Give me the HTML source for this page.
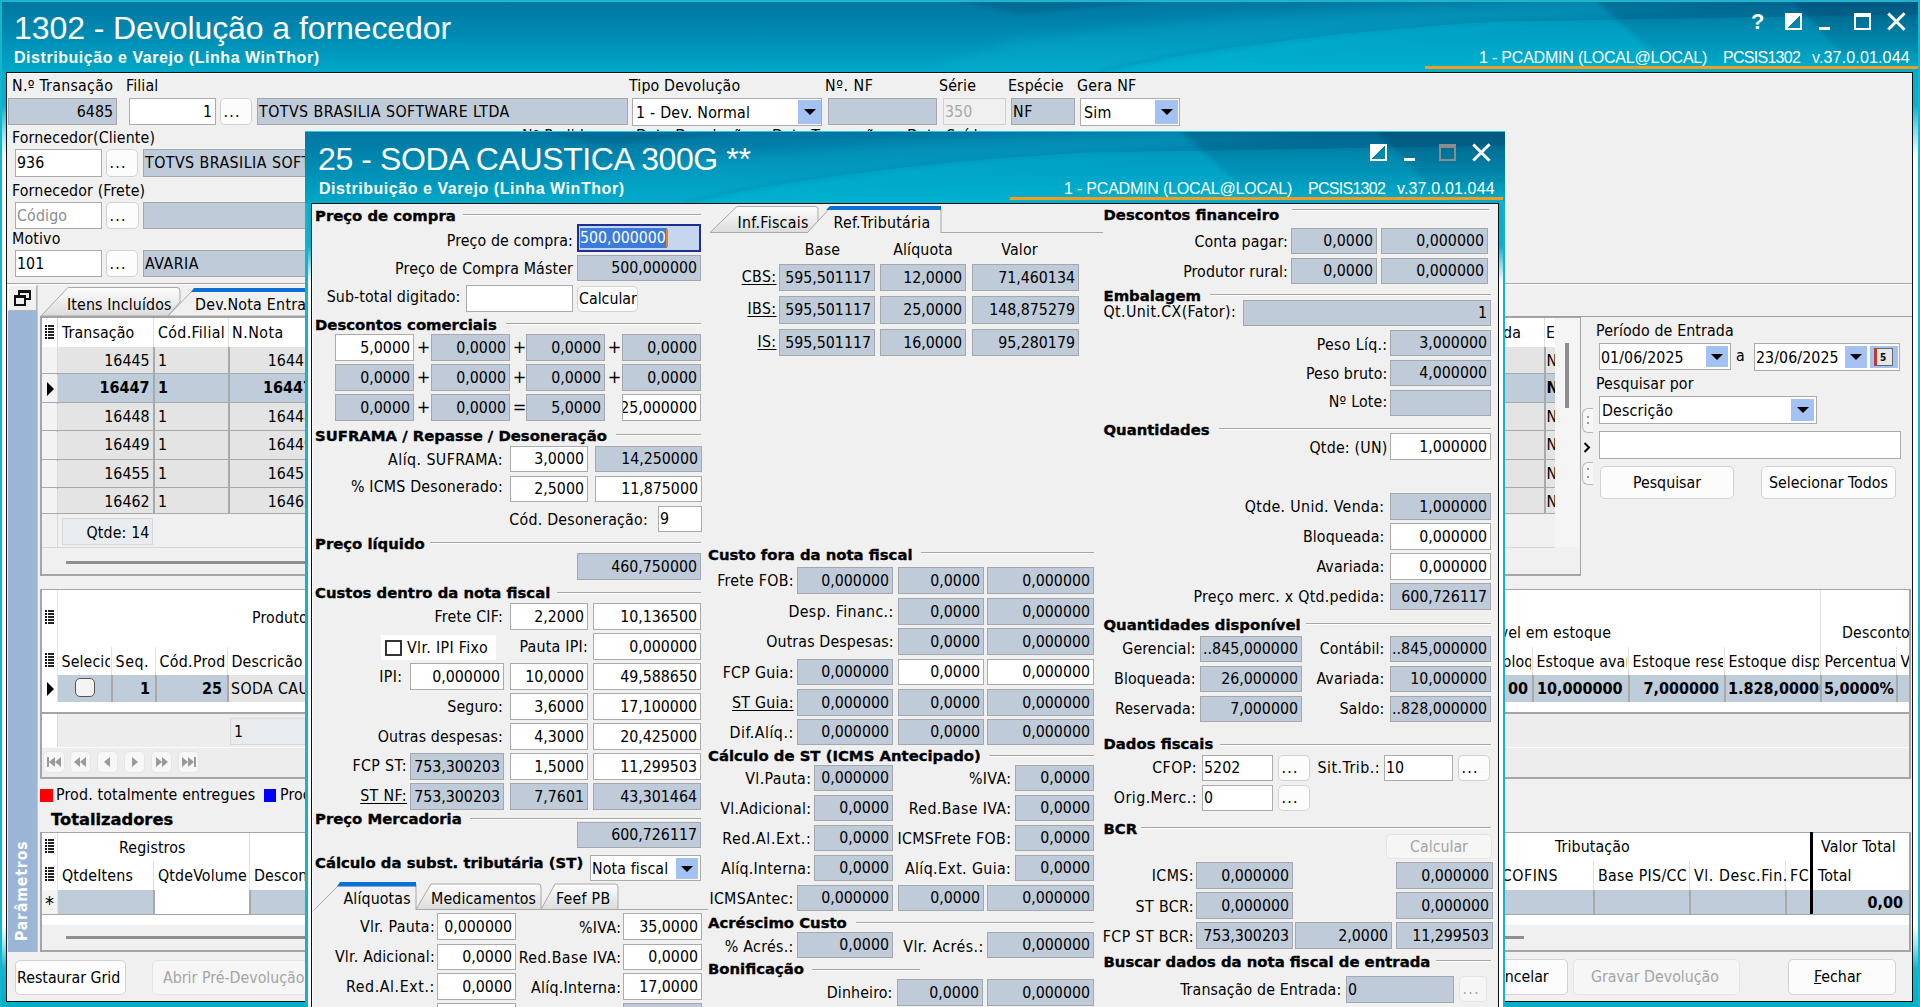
<!DOCTYPE html><html><head><meta charset="utf-8"><title>1302 - Devolução a fornecedor</title><style>
*{margin:0;padding:0}
html,body{width:1920px;height:1007px;overflow:hidden}
body{position:relative;background:#09a6c6;font-family:"DejaVu Sans Condensed","DejaVu Sans",sans-serif;font-size:15.8px;color:#000}
div{position:absolute;box-sizing:border-box;white-space:nowrap}
.fg{background:#bfcbd8;border:1px solid #a3a8ae;overflow:hidden}
.fw{background:#fff;border:1px solid #ababab;overflow:hidden}
.fd{background:#f0f0f0;border:1px solid #cfcfcf;color:#a8a8a8;overflow:hidden}
.fp{background:#e9ecef;border:1px solid #d6d9dc;overflow:hidden}
.bt{background:#fcfcfc;border:1px solid #d2d2d2;border-radius:5px;text-align:center;overflow:hidden}
.bt.dis{color:#a5a5a5;background:#f6f6f6;border-color:#e4e4e4}
.ddb{background:#a3c1f3}
.tri{left:50%;top:50%;margin-left:-6px;margin-top:-3px;width:0;height:0;border-left:6px solid transparent;border-right:6px solid transparent;border-top:6px solid #000}
.gl{height:2px;border-top:1px solid #a6a6a6;border-bottom:1px solid #fff}
.wt{color:#fff}
.ttl{font-family:"Liberation Sans",Arial,sans-serif;color:#fff}
u{text-decoration:underline}
</style></head><body><div style="left:0;top:0;width:1920px;height:1007px;background:linear-gradient(180deg,#09a8c8 0px,#0ab0cf 105px,#86dcec 130px,#f4fbfd 155px,#fff 165px,#fff 925px,#9fe3ef 945px,#12b6d0 968px,#02aec9 1007px)"></div><svg style="position:absolute;left:0px;top:0px" width="1920" height="72"><defs><linearGradient id="tb0g" x1="0" y1="0" x2="0" y2="1"><stop offset="0" stop-color="#0076a1"/><stop offset="0.45" stop-color="#0089b1"/><stop offset="1" stop-color="#00a8c8"/></linearGradient><filter id="tb0b"><feGaussianBlur stdDeviation="6"/></filter><filter id="tb0s"><feGaussianBlur stdDeviation="2"/></filter></defs><rect width="1920" height="72" fill="url(#tb0g)"/><path d="M1020 39.6 C1220 14.4,1420 3.6,1590 0 L1740 0 C1570 21.599999999999998,1320 43.199999999999996,1100 72 L920 72 Z" fill="#10b6d6" opacity="0.3" filter="url(#tb0b)"/><path d="M1098 73 C1200 47.52,1350 30.24,1500 21.599999999999998 L1920 14.4 L1920 73 Z" fill="#00bedb" opacity="0.42"/><path d="M1098 73 C1200 47.52,1350 30.24,1500 21.599999999999998 L1920 14.4" fill="none" stroke="#007fa6" stroke-width="5" opacity="0.25" filter="url(#tb0s)"/><path d="M960 1 L1160 1 L1020 14.4 Z" fill="#005b84" opacity="0.45" filter="url(#tb0s)"/><linearGradient id="tb0d" x1="0" y1="0" x2="0" y2="1"><stop offset="0" stop-color="#003f66" stop-opacity="0.55"/><stop offset="0.6" stop-color="#003f66" stop-opacity="0.25"/><stop offset="1" stop-color="#003f66" stop-opacity="0"/></linearGradient><path d="M1590 -5 L1930 -5 L1930 72 L1675 72 Z" fill="url(#tb0d)" opacity="0.6" filter="url(#tb0s)"/><path d="M1787 -5 L1930 -5 L1930 72 L1860 72 Z" fill="url(#tb0d)" opacity="0.7" filter="url(#tb0s)"/></svg><div class="ttl" style="left:14px;top:7.9px;line-height:40px;font-size:32px;letter-spacing:-0.08px">1302 - Devolução a fornecedor</div><div class="ttl" style="left:14px;top:48.0px;line-height:20px;font-size:16px;font-weight:bold;letter-spacing:0.55px">Distribuição e Varejo (Linha WinThor)</div><div class="ttl" style="left:1479px;top:47.5px;line-height:20px;font-size:16px;letter-spacing:-0.2px">1 - PCADMIN (LOCAL@LOCAL)</div><div class="ttl" style="left:1723px;top:47.5px;line-height:20px;font-size:16px;letter-spacing:-0.72px">PCSIS1302</div><div class="ttl" style="left:1812px;top:47.5px;line-height:20px;font-size:16px;letter-spacing:0.15px">v.37.0.01.044</div><div style="left:1425px;top:65.5px;width:493px;height:3px;background:#f39c1e"></div><div class="ttl" style="left:1751px;top:8px;font-size:22px;font-weight:bold;line-height:28px">?</div><div style="left:1785px;top:13px;width:17px;height:17px;border:2px solid #fff;background:linear-gradient(135deg,#fff 50%,transparent 50%)"></div><div style="left:1819px;top:27px;width:11px;height:3px;background:#fff"></div><div style="left:1854px;top:13px;width:17px;height:17px;border:2px solid #fff;border-top-width:4px"></div><div style="left:1885.2px;top:20.0px;width:22.6px;height:3px;background:#fff;transform:rotate(45deg)"></div><div style="left:1885.2px;top:20.0px;width:22.6px;height:3px;background:#fff;transform:rotate(-45deg)"></div><div style="left:0;top:0;width:1920px;height:2px;background:#1db5cc"></div><div style="left:0;top:0;width:2px;height:1007px;background:#14b6cc"></div><div style="left:1918px;top:0;width:2px;height:1007px;background:#14b6cc"></div><div style="left:6px;top:72px;width:1907px;height:930px;background:#f0f0f0;border:1px solid #111;border-bottom-width:1px"></div><div style="left:7px;top:73px;width:1905px;height:1px;background:#fff"></div><div style="top:76.03px;line-height:20px;font-size:15.8px;letter-spacing:0.272px;left:12px;">N.º Transação</div><div style="top:76.03px;line-height:20px;font-size:15.8px;letter-spacing:0.149px;left:126px;">Filial</div><div style="top:76.03px;line-height:20px;font-size:15.8px;letter-spacing:0.139px;left:629px;">Tipo Devolução</div><div style="top:76.03px;line-height:20px;font-size:15.8px;letter-spacing:0.569px;left:825px;">Nº. NF</div><div style="top:76.03px;line-height:20px;font-size:15.8px;letter-spacing:0.164px;left:939px;">Série</div><div style="top:76.03px;line-height:20px;font-size:15.8px;letter-spacing:0.139px;left:1008px;">Espécie</div><div style="top:76.03px;line-height:20px;font-size:15.8px;letter-spacing:0.261px;left:1077px;">Gera NF</div><div class="fg" style="left:8px;top:98px;width:109px;height:27px;line-height:25px;"><div style="right:3px;top:0">6485</div></div><div class="fw" style="left:129px;top:98px;width:87px;height:27px;line-height:25px;"><div style="right:3px;top:0">1</div></div><div class="bt" style="left:220px;top:98px;width:32px;height:27px;line-height:25px;text-align:left;padding-left:2.5px;letter-spacing:1.3px;">...</div><div class="fg" style="left:257px;top:98px;width:371px;height:27px;line-height:25px;padding-left:1px;letter-spacing:0.458px;">TOTVS BRASILIA SOFTWARE LTDA</div><div class="fw" style="left:632px;top:98px;width:190px;height:28px;line-height:26px;padding-top:1.3px;padding-left:3px;letter-spacing:0.246px;">1 - Dev. Normal</div><div class="ddb" style="left:798px;top:100px;width:23px;height:24px;"><div class="tri"></div></div><div class="fg" style="left:828px;top:98px;width:109px;height:27px;line-height:25px;"></div><div class="fd" style="left:943px;top:98px;width:63px;height:27px;line-height:25px;padding-left:1px;letter-spacing:0.079px;">350</div><div class="fg" style="left:1011px;top:98px;width:64px;height:27px;line-height:25px;padding-left:1px;letter-spacing:0.503px;">NF</div><div class="fw" style="left:1080px;top:98px;width:100px;height:28px;line-height:26px;padding-top:1.3px;padding-left:3px;letter-spacing:0.220px;">Sim</div><div class="ddb" style="left:1155px;top:100px;width:23px;height:24px;"><div class="tri"></div></div><div style="top:128.03px;line-height:20px;font-size:15.8px;letter-spacing:0.123px;left:12px;">Fornecedor(Cliente)</div><div style="top:126.03px;line-height:20px;font-size:15.8px;letter-spacing:0.173px;left:522px;">Nº Pedido</div><div style="top:126.03px;line-height:20px;font-size:15.8px;letter-spacing:0.139px;left:636px;">Data Devolução</div><div style="top:126.03px;line-height:20px;font-size:15.8px;letter-spacing:0.139px;left:772px;">Data Transação</div><div style="top:126.03px;line-height:20px;font-size:15.8px;letter-spacing:0.164px;left:907px;">Data Saída</div><div class="fw" style="left:15px;top:149px;width:87px;height:28px;line-height:26px;padding-left:1px;letter-spacing:0.079px;">936</div><div class="bt" style="left:106px;top:149px;width:32px;height:28px;line-height:26px;text-align:left;padding-left:2.5px;letter-spacing:1.3px;">...</div><div class="fg" style="left:143px;top:149px;width:457px;height:28px;line-height:26px;padding-left:1px;letter-spacing:0.458px;">TOTVS BRASILIA SOFTWARE LTDA</div><div style="top:180.53px;line-height:20px;font-size:15.8px;letter-spacing:0.126px;left:12px;">Fornecedor (Frete)</div><div class="fw" style="left:15px;top:202px;width:87px;height:27px;line-height:25px;padding-left:1px;letter-spacing:0.149px;color:#8c8c8c;">Código</div><div class="bt" style="left:106px;top:202px;width:33px;height:27px;line-height:25px;text-align:left;padding-left:2.5px;letter-spacing:1.3px;">...</div><div class="fg" style="left:143px;top:202px;width:457px;height:27px;line-height:25px;padding-left:4px;letter-spacing:0.000px;"></div><div style="top:229.03px;line-height:20px;font-size:15.8px;letter-spacing:0.149px;left:12px;">Motivo</div><div class="fw" style="left:15px;top:250px;width:87px;height:27px;line-height:25px;padding-left:1px;letter-spacing:0.079px;">101</div><div class="bt" style="left:106px;top:250px;width:32px;height:27px;line-height:25px;text-align:left;padding-left:2.5px;letter-spacing:1.3px;">...</div><div class="fg" style="left:143px;top:250px;width:457px;height:27px;line-height:25px;padding-left:1px;letter-spacing:0.503px;">AVARIA</div><div style="left:7px;top:283px;width:1905px;height:1px;background:#a8a8a8"></div><div style="left:7px;top:284px;width:1905px;height:1px;background:#fff"></div><div style="left:8px;top:285px;width:29px;height:26px;background:#f0f0f0;border:1px solid #b4b4b4;border-top-color:#fff;border-left-color:#fff"></div><div style="left:18px;top:290px;width:12.5px;height:10px;border:2px solid #111;border-top-width:3px"></div><div style="left:13.5px;top:295px;width:12.5px;height:11px;border:2px solid #111;border-top-width:3px;background:#f0f0f0"></div><div style="left:8px;top:311px;width:29px;height:641px;background:#9bb5d6"></div><div style="left:37px;top:285px;width:1px;height:667px;background:#c8c8c8"></div><div style="left:-28px;top:881px;width:100px;height:20px;line-height:20px;text-align:center;color:#fff;font-weight:bold;font-size:15.5px;letter-spacing:0.95px;transform:rotate(-90deg)">Parâmetros</div><svg style="position:absolute;left:38px;top:284px" width="170" height="34"><defs><linearGradient id="tg" x1="0" y1="0" x2="0" y2="1"><stop offset="0" stop-color="#fdfdfd"/><stop offset="1" stop-color="#dcdcdc"/></linearGradient></defs><path d="M3 32 L30 3.5 L139 3.5 Q142 3.5 142 7 L142 18 L130 32 Z" fill="url(#tg)" stroke="#a8a8a8" stroke-width="1"/></svg><div style="top:295.03px;line-height:20px;font-size:15.8px;letter-spacing:0.135px;left:67px;">Itens Incluídos</div><svg style="position:absolute;left:160px;top:284px" width="150" height="34"><path d="M8 32 L34 5 L150 5 L150 32 Z" fill="#f0f0f0" stroke="#a8a8a8" stroke-width="1"/><path d="M34 4 L150 4 L150 8 L31 8 Z" fill="#0b6fd6"/></svg><div style="top:295.03px;line-height:20px;font-size:15.8px;letter-spacing:0.263px;left:195px;">Dev.Nota Entrada</div><div style="left:40px;top:316px;width:1872px;height:1px;background:#a0a0a0"></div><div style="left:40px;top:317px;width:1541px;height:259px;background:#f0f0f0;border:2px solid #a5a5a5;border-top:1px solid #a5a5a5;border-right:1px solid #a5a5a5"></div><div style="left:1555px;top:318px;width:25px;height:229px;background:#f5f5f5"></div><div style="left:1565px;top:343px;width:4px;height:65px;background:#8f8f8f"></div><div style="left:42px;top:318px;width:1513px;height:29px;background:#fff"></div><div style="left:45px;top:325.0px;width:1.6px;height:1.6px;background:#111"></div><div style="left:48px;top:325.0px;width:6px;height:1.6px;background:#222"></div><div style="left:45px;top:328.1px;width:1.6px;height:1.6px;background:#111"></div><div style="left:48px;top:328.1px;width:6px;height:1.6px;background:#222"></div><div style="left:45px;top:331.2px;width:1.6px;height:1.6px;background:#111"></div><div style="left:48px;top:331.2px;width:6px;height:1.6px;background:#222"></div><div style="left:45px;top:334.3px;width:1.6px;height:1.6px;background:#111"></div><div style="left:48px;top:334.3px;width:6px;height:1.6px;background:#222"></div><div style="left:45px;top:337.4px;width:1.6px;height:1.6px;background:#111"></div><div style="left:48px;top:337.4px;width:6px;height:1.6px;background:#222"></div><div style="left:57px;top:318px;width:1px;height:195px;background:#d9d9d9"></div><div style="left:153px;top:318px;width:1px;height:29px;background:#e0e0e0"></div><div style="left:228px;top:318px;width:1px;height:29px;background:#e0e0e0"></div><div style="top:322.83px;line-height:20px;font-size:15.8px;letter-spacing:0.126px;left:62px;">Transação</div><div style="top:322.83px;line-height:20px;font-size:15.8px;letter-spacing:0.33px;left:158px;">Cód.Filial</div><div style="top:322.83px;line-height:20px;font-size:15.8px;letter-spacing:0.498px;left:232px;">N.Nota</div><div style="top:322.83px;line-height:20px;font-size:15.8px;letter-spacing:0.139px;left:921px;width:600px;text-align:right;">Entrada</div><div style="left:1544px;top:318px;width:1px;height:29px;background:#e0e0e0"></div><div style="left:1545px;top:318px;width:10px;height:29px;overflow:hidden"><div style="left:1px;top:4.83px;line-height:20px">E</div></div><div style="left:58px;top:347px;width:1497px;height:27px;background:#e4e4e4"></div><div style="left:42px;top:347px;width:15px;height:27px;background:#f3f3f3"></div><div style="left:42px;top:373px;width:1513px;height:2px;background:#a9a9a9"></div><div style="top:351.03px;line-height:20px;font-size:15.8px;left:-450.5px;width:600px;text-align:right;">16445</div><div style="top:351.03px;line-height:20px;font-size:15.8px;left:158px;">1</div><div style="top:351.03px;line-height:20px;font-size:15.8px;left:-287px;width:600px;text-align:right;">16445</div><div style="left:1545px;top:347px;width:10px;height:26px;overflow:hidden"><div style="left:1.5px;top:4.03px;line-height:20px;">N</div></div><div style="left:153px;top:347px;width:2px;height:27px;background:#a9a9a9"></div><div style="left:228px;top:347px;width:2px;height:27px;background:#a9a9a9"></div><div style="left:1544px;top:347px;width:2px;height:27px;background:#a9a9a9"></div><div style="left:58px;top:374px;width:1497px;height:29px;background:#bfccd9"></div><div style="left:42px;top:374px;width:15px;height:29px;background:#f3f3f3"></div><div style="left:42px;top:402px;width:1513px;height:2px;background:#a9a9a9"></div><div style="top:377.96px;line-height:20px;font-size:16px;font-weight:bold;left:-450.5px;width:600px;text-align:right;">16447</div><div style="top:377.96px;line-height:20px;font-size:16px;font-weight:bold;left:158px;">1</div><div style="top:377.96px;line-height:20px;font-size:16px;font-weight:bold;left:-287px;width:600px;text-align:right;">16447</div><div style="left:1545px;top:374px;width:10px;height:28px;overflow:hidden"><div style="left:1.5px;top:4.03px;line-height:20px;font-weight:bold;">N</div></div><div style="left:47px;top:382px;width:0;height:0;border-top:7px solid transparent;border-bottom:7px solid transparent;border-left:7px solid #000"></div><div style="left:153px;top:374px;width:2px;height:29px;background:#a9a9a9"></div><div style="left:228px;top:374px;width:2px;height:29px;background:#a9a9a9"></div><div style="left:1544px;top:374px;width:2px;height:29px;background:#a9a9a9"></div><div style="left:58px;top:403px;width:1497px;height:28px;background:#e4e4e4"></div><div style="left:42px;top:403px;width:15px;height:28px;background:#f3f3f3"></div><div style="left:42px;top:430px;width:1513px;height:2px;background:#a9a9a9"></div><div style="top:407.03px;line-height:20px;font-size:15.8px;left:-450.5px;width:600px;text-align:right;">16448</div><div style="top:407.03px;line-height:20px;font-size:15.8px;left:158px;">1</div><div style="top:407.03px;line-height:20px;font-size:15.8px;left:-287px;width:600px;text-align:right;">16448</div><div style="left:1545px;top:403px;width:10px;height:27px;overflow:hidden"><div style="left:1.5px;top:4.03px;line-height:20px;">N</div></div><div style="left:153px;top:403px;width:2px;height:28px;background:#a9a9a9"></div><div style="left:228px;top:403px;width:2px;height:28px;background:#a9a9a9"></div><div style="left:1544px;top:403px;width:2px;height:28px;background:#a9a9a9"></div><div style="left:58px;top:431px;width:1497px;height:29px;background:#e4e4e4"></div><div style="left:42px;top:431px;width:15px;height:29px;background:#f3f3f3"></div><div style="left:42px;top:459px;width:1513px;height:2px;background:#a9a9a9"></div><div style="top:435.03px;line-height:20px;font-size:15.8px;left:-450.5px;width:600px;text-align:right;">16449</div><div style="top:435.03px;line-height:20px;font-size:15.8px;left:158px;">1</div><div style="top:435.03px;line-height:20px;font-size:15.8px;left:-287px;width:600px;text-align:right;">16449</div><div style="left:1545px;top:431px;width:10px;height:28px;overflow:hidden"><div style="left:1.5px;top:4.03px;line-height:20px;">N</div></div><div style="left:153px;top:431px;width:2px;height:29px;background:#a9a9a9"></div><div style="left:228px;top:431px;width:2px;height:29px;background:#a9a9a9"></div><div style="left:1544px;top:431px;width:2px;height:29px;background:#a9a9a9"></div><div style="left:58px;top:460px;width:1497px;height:28px;background:#e4e4e4"></div><div style="left:42px;top:460px;width:15px;height:28px;background:#f3f3f3"></div><div style="left:42px;top:487px;width:1513px;height:2px;background:#a9a9a9"></div><div style="top:464.03px;line-height:20px;font-size:15.8px;left:-450.5px;width:600px;text-align:right;">16455</div><div style="top:464.03px;line-height:20px;font-size:15.8px;left:158px;">1</div><div style="top:464.03px;line-height:20px;font-size:15.8px;left:-287px;width:600px;text-align:right;">16455</div><div style="left:1545px;top:460px;width:10px;height:27px;overflow:hidden"><div style="left:1.5px;top:4.03px;line-height:20px;">N</div></div><div style="left:153px;top:460px;width:2px;height:28px;background:#a9a9a9"></div><div style="left:228px;top:460px;width:2px;height:28px;background:#a9a9a9"></div><div style="left:1544px;top:460px;width:2px;height:28px;background:#a9a9a9"></div><div style="left:58px;top:488px;width:1497px;height:26px;background:#e4e4e4"></div><div style="left:42px;top:488px;width:15px;height:26px;background:#f3f3f3"></div><div style="left:42px;top:513px;width:1513px;height:2px;background:#a9a9a9"></div><div style="top:492.03px;line-height:20px;font-size:15.8px;left:-450.5px;width:600px;text-align:right;">16462</div><div style="top:492.03px;line-height:20px;font-size:15.8px;left:158px;">1</div><div style="top:492.03px;line-height:20px;font-size:15.8px;left:-287px;width:600px;text-align:right;">16462</div><div style="left:1545px;top:488px;width:10px;height:25px;overflow:hidden"><div style="left:1.5px;top:4.03px;line-height:20px;">N</div></div><div style="left:153px;top:488px;width:2px;height:26px;background:#a9a9a9"></div><div style="left:228px;top:488px;width:2px;height:26px;background:#a9a9a9"></div><div style="left:1544px;top:488px;width:2px;height:26px;background:#a9a9a9"></div><div style="left:42px;top:514px;width:1513px;height:34px;background:#f0f0f0"></div><div style="left:57px;top:514px;width:1px;height:34px;background:#d9d9d9"></div><div class="fp" style="left:62px;top:518px;width:91px;height:27px;"></div><div style="top:522.83px;line-height:20px;font-size:15.8px;letter-spacing:0.132px;left:-450.5px;width:600px;text-align:right;">Qtde: 14</div><div style="left:42px;top:547px;width:1513px;height:1px;background:#d8d8d8"></div><div style="left:66px;top:561px;width:1354px;height:3px;background:#8f8f8f"></div><div style="top:321.23px;line-height:20px;font-size:15.8px;letter-spacing:0.126px;left:1596px;">Período de Entrada</div><div class="fw" style="left:1599px;top:343px;width:132px;height:27px;line-height:25px;padding-top:1.3px;padding-left:1px;letter-spacing:0.079px;">01/06/2025</div><div class="ddb" style="left:1706px;top:346px;width:22px;height:21px;"><div class="tri"></div></div><div style="top:345.53px;line-height:20px;font-size:15.8px;letter-spacing:0.079px;left:1736px;">a</div><div class="fw" style="left:1754px;top:343px;width:146px;height:28px;line-height:26px;padding-top:1.3px;padding-left:1px;letter-spacing:0.079px;">23/06/2025</div><div class="ddb" style="left:1845px;top:346px;width:22px;height:22px;"><div class="tri"></div></div><div style="left:1870px;top:346px;width:28px;height:22px;background:#a3c1f3"></div><div style="left:1874px;top:348px;width:19px;height:18px;background:#e7e7e7;border:1px solid #666;border-left:3px solid #c0392b"></div><div style="left:1880px;top:352px;font-size:10px;line-height:12px;font-weight:bold">5</div><div style="top:373.73px;line-height:20px;font-size:15.8px;letter-spacing:0.111px;left:1596px;">Pesquisar por</div><div class="fw" style="left:1599px;top:396px;width:218px;height:28px;line-height:26px;padding-top:1.3px;padding-left:2px;letter-spacing:0.126px;">Descrição</div><div class="ddb" style="left:1791px;top:399px;width:23px;height:22px;"><div class="tri"></div></div><div class="fw" style="left:1599px;top:431px;width:302px;height:28px;line-height:26px;"></div><div class="bt" style="left:1600px;top:466px;width:134px;height:33px;line-height:31px;">Pesquisar</div><div class="bt" style="left:1761px;top:466px;width:135px;height:33px;line-height:31px;">Selecionar Todos</div><div style="left:1582px;top:408px;width:11px;height:25px;border:1px solid #b8b8b8;border-right:none;border-radius:6px 0 0 6px;background:#f6f6f6"></div><div style="left:1587px;top:416px;width:2px;height:2px;background:#999"></div><div style="left:1587px;top:422px;width:2px;height:2px;background:#999"></div><div style="left:1582px;top:462px;width:11px;height:23px;border:1px solid #b8b8b8;border-right:none;border-radius:6px 0 0 6px;background:#f6f6f6"></div><div style="left:1587px;top:468px;width:2px;height:2px;background:#999"></div><div style="left:1587px;top:476px;width:2px;height:2px;background:#999"></div><svg style="position:absolute;left:1582px;top:441px" width="10" height="13"><path d="M2.5 2 L7 6.5 L2.5 11" fill="none" stroke="#000" stroke-width="2"/></svg><div style="left:40px;top:589px;width:1871px;height:190px;background:#f0f0f0;border:2px solid #a5a5a5;border-top:1px solid #a5a5a5"></div><div style="left:42px;top:590px;width:1867px;height:85px;background:#fff"></div><div style="left:45px;top:610.0px;width:1.6px;height:1.6px;background:#111"></div><div style="left:48px;top:610.0px;width:6px;height:1.6px;background:#222"></div><div style="left:45px;top:613.1px;width:1.6px;height:1.6px;background:#111"></div><div style="left:48px;top:613.1px;width:6px;height:1.6px;background:#222"></div><div style="left:45px;top:616.2px;width:1.6px;height:1.6px;background:#111"></div><div style="left:48px;top:616.2px;width:6px;height:1.6px;background:#222"></div><div style="left:45px;top:619.3px;width:1.6px;height:1.6px;background:#111"></div><div style="left:48px;top:619.3px;width:6px;height:1.6px;background:#222"></div><div style="left:45px;top:622.4px;width:1.6px;height:1.6px;background:#111"></div><div style="left:48px;top:622.4px;width:6px;height:1.6px;background:#222"></div><div style="left:45px;top:653.0px;width:1.6px;height:1.6px;background:#111"></div><div style="left:48px;top:653.0px;width:6px;height:1.6px;background:#222"></div><div style="left:45px;top:656.1px;width:1.6px;height:1.6px;background:#111"></div><div style="left:48px;top:656.1px;width:6px;height:1.6px;background:#222"></div><div style="left:45px;top:659.2px;width:1.6px;height:1.6px;background:#111"></div><div style="left:48px;top:659.2px;width:6px;height:1.6px;background:#222"></div><div style="left:45px;top:662.3px;width:1.6px;height:1.6px;background:#111"></div><div style="left:48px;top:662.3px;width:6px;height:1.6px;background:#222"></div><div style="left:45px;top:665.4px;width:1.6px;height:1.6px;background:#111"></div><div style="left:48px;top:665.4px;width:6px;height:1.6px;background:#222"></div><div style="left:57px;top:590px;width:1px;height:112px;background:#e4e4e4"></div><div style="top:607.53px;line-height:20px;font-size:15.8px;letter-spacing:0.139px;left:252px;">Produto</div><div style="top:623.13px;line-height:20px;font-size:15.8px;letter-spacing:0.099px;left:1011px;width:600px;text-align:right;">Disponível em estoque</div><div style="left:1820px;top:590px;width:1px;height:85px;background:#e0e0e0"></div><div style="top:623.13px;line-height:20px;font-size:15.8px;letter-spacing:0.132px;left:1842px;">Desconto</div><div style="left:111px;top:647px;width:1px;height:28px;background:#e0e0e0"></div><div style="left:155px;top:647px;width:1px;height:28px;background:#e0e0e0"></div><div style="left:227px;top:647px;width:1px;height:28px;background:#e0e0e0"></div><div style="left:1532px;top:647px;width:1px;height:28px;background:#e0e0e0"></div><div style="left:1628px;top:647px;width:1px;height:28px;background:#e0e0e0"></div><div style="left:1724px;top:647px;width:1px;height:28px;background:#e0e0e0"></div><div style="left:1896px;top:647px;width:1px;height:28px;background:#e0e0e0"></div><div style="left:58px;top:647px;width:52px;height:28px;overflow:hidden"><div style="left:3.5px;top:4.53px;line-height:20px;letter-spacing:0.117px;">Selecionado</div></div><div style="left:112px;top:647px;width:42px;height:28px;overflow:hidden"><div style="left:3.5px;top:4.53px;line-height:20px;letter-spacing:0.602px;">Seq.</div></div><div style="left:156px;top:647px;width:70px;height:28px;overflow:hidden"><div style="left:3.5px;top:4.53px;line-height:20px;letter-spacing:0.308px;">Cód.Produto</div></div><div style="left:228px;top:647px;width:102px;height:28px;overflow:hidden"><div style="left:3.5px;top:4.53px;line-height:20px;letter-spacing:0.126px;">Descricão</div></div><div style="left:1436px;top:647px;width:95px;height:28px;overflow:hidden"><div style="left:3.5px;top:4.53px;line-height:20px;letter-spacing:0.104px;">Estoque bloqueado</div></div><div style="left:1533px;top:647px;width:94px;height:28px;overflow:hidden"><div style="left:3.5px;top:4.53px;line-height:20px;letter-spacing:0.105px;">Estoque avariado</div></div><div style="left:1629px;top:647px;width:94px;height:28px;overflow:hidden"><div style="left:3.5px;top:4.53px;line-height:20px;letter-spacing:0.104px;">Estoque reservado</div></div><div style="left:1725px;top:647px;width:94px;height:28px;overflow:hidden"><div style="left:3.5px;top:4.53px;line-height:20px;letter-spacing:0.102px;">Estoque disponível</div></div><div style="left:1821px;top:647px;width:74px;height:28px;overflow:hidden"><div style="left:3.5px;top:4.53px;line-height:20px;letter-spacing:0.121px;">Percentual</div></div><div style="left:1897px;top:647px;width:12px;height:28px;overflow:hidden"><div style="left:3.5px;top:4.53px;line-height:20px;letter-spacing:0.288px;">Vl. Desconto</div></div><div style="left:58px;top:675px;width:169px;height:27px;background:#bfccd9"></div><div style="left:227px;top:675px;width:103px;height:27px;background:#e4e4e4"></div><div style="left:1500px;top:675px;width:409px;height:27px;background:#bfccd9"></div><div style="left:42px;top:675px;width:15px;height:27px;background:#fff"></div><div style="left:47px;top:682px;width:0;height:0;border-top:7px solid transparent;border-bottom:7px solid transparent;border-left:7px solid #000"></div><div style="left:75px;top:678px;width:20px;height:19px;border:1.5px solid #555;border-radius:5px;background:#f4f4f4"></div><div style="left:111px;top:675px;width:2px;height:27px;background:#a9a9a9"></div><div style="left:155px;top:675px;width:2px;height:27px;background:#a9a9a9"></div><div style="left:227px;top:675px;width:2px;height:27px;background:#a9a9a9"></div><div style="left:1532px;top:675px;width:2px;height:27px;background:#a9a9a9"></div><div style="left:1628px;top:675px;width:2px;height:27px;background:#a9a9a9"></div><div style="left:1724px;top:675px;width:2px;height:27px;background:#a9a9a9"></div><div style="left:1820px;top:675px;width:2px;height:27px;background:#a9a9a9"></div><div style="left:1896px;top:675px;width:2px;height:27px;background:#a9a9a9"></div><div style="top:678.96px;line-height:20px;font-size:16px;font-weight:bold;left:-450px;width:600px;text-align:right;">1</div><div style="top:678.96px;line-height:20px;font-size:16px;font-weight:bold;left:-378px;width:600px;text-align:right;">25</div><div style="top:679.03px;line-height:20px;font-size:15.8px;letter-spacing:0.385px;left:231px;">SODA CAUSTICA 300G</div><div style="top:678.96px;line-height:20px;font-size:16px;font-weight:bold;left:928px;width:600px;text-align:right;">00</div><div style="top:678.96px;line-height:20px;font-size:16px;font-weight:bold;left:1537px;">10,000000</div><div style="top:678.96px;line-height:20px;font-size:16px;font-weight:bold;left:1119px;width:600px;text-align:right;">7,000000</div><div style="left:1726px;top:675px;width:94px;height:27px;overflow:hidden"><div style="left:2px;top:3.96px;line-height:20px;font-size:16px;font-weight:bold">1.828,000000</div></div><div style="left:1822px;top:675px;width:74px;height:27px;overflow:hidden"><div style="left:2px;top:3.96px;line-height:20px;font-size:16px;font-weight:bold">5,0000%</div></div><div style="left:42px;top:702px;width:1867px;height:10px;background:#fff"></div><div style="left:42px;top:712px;width:1867px;height:2px;background:#a5a5a5"></div><div style="left:42px;top:714px;width:1867px;height:33px;background:#ededed"></div><div style="left:42px;top:714px;width:15px;height:33px;background:#fff"></div><div style="left:57px;top:714px;width:1px;height:33px;background:#d9d9d9"></div><div class="fp" style="left:230px;top:718px;width:100px;height:27px;"></div><div style="top:722.03px;line-height:20px;font-size:15.8px;letter-spacing:0.079px;left:234px;">1</div><div style="left:42px;top:747px;width:1867px;height:1px;background:#fafafa"></div><div style="left:42px;top:748px;width:1867px;height:29px;background:#ededed"></div><div class="bt" style="left:43px;top:751px;width:22px;height:22px;border-color:#e6e6e6;background:#f7f7f7"></div><div class="bt" style="left:70px;top:751px;width:21px;height:22px;border-color:#e6e6e6;background:#f7f7f7"></div><div class="bt" style="left:97px;top:751px;width:21px;height:22px;border-color:#e6e6e6;background:#f7f7f7"></div><div class="bt" style="left:124px;top:751px;width:21px;height:22px;border-color:#e6e6e6;background:#f7f7f7"></div><div class="bt" style="left:151px;top:751px;width:21px;height:22px;border-color:#e6e6e6;background:#f7f7f7"></div><div class="bt" style="left:178px;top:751px;width:21px;height:22px;border-color:#e6e6e6;background:#f7f7f7"></div><div style="left:47px;top:757px;width:2px;height:10px;background:#9a9a9a"></div><div style="left:49px;top:757px;width:0;height:0;border-top:5px solid transparent;border-bottom:5px solid transparent;border-right:6px solid #9a9a9a"></div><div style="left:55px;top:757px;width:0;height:0;border-top:5px solid transparent;border-bottom:5px solid transparent;border-right:6px solid #9a9a9a"></div><div style="left:74px;top:757px;width:0;height:0;border-top:5px solid transparent;border-bottom:5px solid transparent;border-right:6px solid #9a9a9a"></div><div style="left:80px;top:757px;width:0;height:0;border-top:5px solid transparent;border-bottom:5px solid transparent;border-right:6px solid #9a9a9a"></div><div style="left:104px;top:757px;width:0;height:0;border-top:5px solid transparent;border-bottom:5px solid transparent;border-right:6px solid #9a9a9a"></div><div style="left:132px;top:757px;width:0;height:0;border-top:5px solid transparent;border-bottom:5px solid transparent;border-left:6px solid #9a9a9a"></div><div style="left:156px;top:757px;width:0;height:0;border-top:5px solid transparent;border-bottom:5px solid transparent;border-left:6px solid #9a9a9a"></div><div style="left:162px;top:757px;width:0;height:0;border-top:5px solid transparent;border-bottom:5px solid transparent;border-left:6px solid #9a9a9a"></div><div style="left:182px;top:757px;width:0;height:0;border-top:5px solid transparent;border-bottom:5px solid transparent;border-left:6px solid #9a9a9a"></div><div style="left:188px;top:757px;width:0;height:0;border-top:5px solid transparent;border-bottom:5px solid transparent;border-left:6px solid #9a9a9a"></div><div style="left:194px;top:757px;width:2px;height:10px;background:#9a9a9a"></div><div style="left:40px;top:789px;width:13px;height:13px;background:#ff0000"></div><div style="top:784.53px;line-height:20px;font-size:15.8px;letter-spacing:0.159px;left:56px;">Prod. totalmente entregues</div><div style="left:264px;top:789px;width:12px;height:13px;background:#0000ff"></div><div style="top:784.53px;line-height:20px;font-size:15.8px;letter-spacing:0.092px;left:280px;">Produtos parcialmente entregues</div><div style="top:810.16px;line-height:20px;font-size:16.3px;font-weight:bold;font-family:'DejaVu Sans',sans-serif;-webkit-text-stroke:0.35px #000;left:51px;">Totalizadores</div><div style="left:40px;top:832px;width:1871px;height:120px;background:#f0f0f0;border:2px solid #a5a5a5;border-top:1px solid #a5a5a5"></div><div style="left:42px;top:833px;width:1867px;height:57px;background:#fff"></div><div style="left:45px;top:839.0px;width:1.6px;height:1.6px;background:#111"></div><div style="left:48px;top:839.0px;width:6px;height:1.6px;background:#222"></div><div style="left:45px;top:842.1px;width:1.6px;height:1.6px;background:#111"></div><div style="left:48px;top:842.1px;width:6px;height:1.6px;background:#222"></div><div style="left:45px;top:845.2px;width:1.6px;height:1.6px;background:#111"></div><div style="left:48px;top:845.2px;width:6px;height:1.6px;background:#222"></div><div style="left:45px;top:848.3px;width:1.6px;height:1.6px;background:#111"></div><div style="left:48px;top:848.3px;width:6px;height:1.6px;background:#222"></div><div style="left:45px;top:851.4px;width:1.6px;height:1.6px;background:#111"></div><div style="left:48px;top:851.4px;width:6px;height:1.6px;background:#222"></div><div style="left:45px;top:867.0px;width:1.6px;height:1.6px;background:#111"></div><div style="left:48px;top:867.0px;width:6px;height:1.6px;background:#222"></div><div style="left:45px;top:870.1px;width:1.6px;height:1.6px;background:#111"></div><div style="left:48px;top:870.1px;width:6px;height:1.6px;background:#222"></div><div style="left:45px;top:873.2px;width:1.6px;height:1.6px;background:#111"></div><div style="left:48px;top:873.2px;width:6px;height:1.6px;background:#222"></div><div style="left:45px;top:876.3px;width:1.6px;height:1.6px;background:#111"></div><div style="left:48px;top:876.3px;width:6px;height:1.6px;background:#222"></div><div style="left:45px;top:879.4px;width:1.6px;height:1.6px;background:#111"></div><div style="left:48px;top:879.4px;width:6px;height:1.6px;background:#222"></div><div style="left:57px;top:833px;width:1px;height:82px;background:#e4e4e4"></div><div style="top:837.53px;line-height:20px;font-size:15.8px;letter-spacing:0.126px;left:119px;">Registros</div><div style="top:837.03px;line-height:20px;font-size:15.8px;letter-spacing:0.121px;left:1555px;">Tributação</div><div style="top:837.03px;line-height:20px;font-size:15.8px;letter-spacing:0.156px;left:1821px;">Valor Total</div><div style="left:153px;top:861px;width:1px;height:29px;background:#e0e0e0"></div><div style="left:249px;top:861px;width:1px;height:29px;background:#e0e0e0"></div><div style="left:1593px;top:861px;width:1px;height:29px;background:#e0e0e0"></div><div style="left:1689px;top:861px;width:1px;height:29px;background:#e0e0e0"></div><div style="left:1785px;top:861px;width:1px;height:29px;background:#e0e0e0"></div><div style="left:249px;top:833px;width:1px;height:28px;background:#e0e0e0"></div><div style="top:866.23px;line-height:20px;font-size:15.8px;letter-spacing:0.173px;left:62px;">QtdeItens</div><div style="top:866.23px;line-height:20px;font-size:15.8px;letter-spacing:0.164px;left:158px;">QtdeVolume</div><div style="top:866.23px;line-height:20px;font-size:15.8px;letter-spacing:0.132px;left:254px;">Desconto</div><div style="top:866.23px;line-height:20px;font-size:15.8px;letter-spacing:0.503px;left:958px;width:600px;text-align:right;">COFINS</div><div style="top:866.23px;line-height:20px;font-size:15.8px;letter-spacing:0.31px;left:1598px;">Base PIS/CC</div><div style="top:866.23px;line-height:20px;font-size:15.8px;letter-spacing:0.562px;left:1694px;">Vl. Desc.Fin.</div><div style="top:866.23px;line-height:20px;font-size:15.8px;letter-spacing:0.503px;left:1790px;">FC</div><div style="top:866.23px;line-height:20px;font-size:15.8px;letter-spacing:0.164px;left:1818px;">Total</div><div style="left:58px;top:890px;width:95px;height:25px;background:#bfccd9"></div><div style="left:153px;top:890px;width:96px;height:25px;background:#fff"></div><div style="left:249px;top:890px;width:81px;height:25px;background:#bfccd9"></div><div style="left:1500px;top:890px;width:409px;height:25px;background:#bfccd9"></div><div style="left:42px;top:890px;width:15px;height:25px;background:#f3f3f3"></div><div style="top:893.08px;line-height:20px;font-size:20px;letter-spacing:0.079px;left:45px;">*</div><div style="left:153px;top:890px;width:2px;height:25px;background:#a9a9a9"></div><div style="left:249px;top:890px;width:2px;height:25px;background:#a9a9a9"></div><div style="left:1593px;top:890px;width:2px;height:25px;background:#a9a9a9"></div><div style="left:1689px;top:890px;width:2px;height:25px;background:#a9a9a9"></div><div style="left:1785px;top:890px;width:2px;height:25px;background:#a9a9a9"></div><div style="left:1810px;top:832px;width:3px;height:83px;background:#000"></div><div style="top:893.46px;line-height:20px;font-size:16px;font-weight:bold;left:1303px;width:600px;text-align:right;">0,00</div><div style="left:42px;top:914px;width:1867px;height:1px;background:#a5a5a5"></div><div style="left:42px;top:915px;width:1867px;height:10px;background:#fff"></div><div style="left:66px;top:936px;width:1458px;height:3px;background:#8f8f8f"></div><div class="bt" style="left:15px;top:960px;width:111px;height:35px;line-height:33px;text-align:left;padding-left:1px;">Restaurar Grid</div><div class="bt dis" style="left:152px;top:960px;width:188px;height:35px;line-height:33px;text-align:left;padding-left:10px;">Abrir Pré-Devolução</div><div class="bt" style="left:1466px;top:959px;width:102px;height:36px;line-height:34px;text-align:left;padding-left:19px;">Cancelar</div><div class="bt dis" style="left:1573px;top:959px;width:167px;height:36px;line-height:34px;text-align:left;padding-left:17px;">Gravar Devolução</div><div class="bt" style="left:1788px;top:959px;width:108px;height:36px;line-height:34px;text-align:left;padding-left:25px;"><u>F</u>echar</div><div style="left:305px;top:131px;width:1200px;height:876px;background:linear-gradient(180deg,#09a8c8 0px,#0ab0cf 115px,#7fd9ea 132px,#f6fbfc 150px,#fff 160px)"></div><div style="left:305px;top:200px;width:2.5px;height:807px;background:#12b4cc"></div><div style="left:1502.5px;top:200px;width:2.5px;height:807px;background:#12b4cc"></div><svg style="position:absolute;left:305px;top:131px" width="1200" height="72"><defs><linearGradient id="tb305g" x1="0" y1="0" x2="0" y2="1"><stop offset="0" stop-color="#0076a1"/><stop offset="0.45" stop-color="#0089b1"/><stop offset="1" stop-color="#00a8c8"/></linearGradient><filter id="tb305b"><feGaussianBlur stdDeviation="6"/></filter><filter id="tb305s"><feGaussianBlur stdDeviation="2"/></filter></defs><rect width="1200" height="72" fill="url(#tb305g)"/><path d="M300 39.6 C500 14.4,700 3.6,870 0 L1020 0 C850 21.599999999999998,600 43.199999999999996,380 72 L200 72 Z" fill="#10b6d6" opacity="0.3" filter="url(#tb305b)"/><path d="M378 73 C480 47.52,630 30.24,780 21.599999999999998 L1200 14.4 L1200 73 Z" fill="#00bedb" opacity="0.42"/><path d="M378 73 C480 47.52,630 30.24,780 21.599999999999998 L1200 14.4" fill="none" stroke="#007fa6" stroke-width="5" opacity="0.25" filter="url(#tb305s)"/><path d="M240 1 L440 1 L300 14.4 Z" fill="#005b84" opacity="0.45" filter="url(#tb305s)"/><linearGradient id="tb305d" x1="0" y1="0" x2="0" y2="1"><stop offset="0" stop-color="#003f66" stop-opacity="0.55"/><stop offset="0.6" stop-color="#003f66" stop-opacity="0.25"/><stop offset="1" stop-color="#003f66" stop-opacity="0"/></linearGradient><path d="M870 -5 L1210 -5 L1210 72 L955 72 Z" fill="url(#tb305d)" opacity="0.6" filter="url(#tb305s)"/><path d="M1067 -5 L1210 -5 L1210 72 L1140 72 Z" fill="url(#tb305d)" opacity="0.7" filter="url(#tb305s)"/></svg><div class="ttl" style="left:318px;top:139.1px;line-height:40px;font-size:32px;letter-spacing:-0.4px">25 - SODA CAUSTICA 300G **</div><div class="ttl" style="left:319px;top:178.8px;line-height:20px;font-size:16px;font-weight:bold;letter-spacing:0.55px">Distribuição e Varejo (Linha WinThor)</div><div class="ttl" style="left:1064px;top:178.5px;line-height:20px;font-size:16px;letter-spacing:-0.2px">1 - PCADMIN (LOCAL@LOCAL)</div><div class="ttl" style="left:1308px;top:178.5px;line-height:20px;font-size:16px;letter-spacing:-0.72px">PCSIS1302</div><div class="ttl" style="left:1397px;top:178.5px;line-height:20px;font-size:16px;letter-spacing:0.15px">v.37.0.01.044</div><div style="left:1010px;top:196.8px;width:493px;height:3px;background:#f39c1e"></div><div style="left:1370px;top:144px;width:17px;height:17px;border:2px solid #fff;background:linear-gradient(135deg,#fff 50%,transparent 50%)"></div><div style="left:1404px;top:158px;width:11px;height:3px;background:#fff"></div><div style="left:1439px;top:144px;width:17px;height:17px;border:2px solid #8c8c8c;border-top-width:4px"></div><div style="left:1470.2px;top:151.0px;width:22.6px;height:3px;background:#fff;transform:rotate(45deg)"></div><div style="left:1470.2px;top:151.0px;width:22.6px;height:3px;background:#fff;transform:rotate(-45deg)"></div><div style="left:305px;top:131px;width:1200px;height:1px;background:#2ec9e0"></div><div style="left:311px;top:203px;width:1188px;height:810px;background:#f0f0f0;border:1px solid #111;border-bottom:none"></div><div style="left:312px;top:204px;width:1px;height:810px;background:#fafafa"></div><div style="top:205.86px;line-height:20px;font-size:14.85px;font-weight:bold;font-family:'DejaVu Sans',sans-serif;-webkit-text-stroke:0.35px #000;left:315px;">Preço de compra</div><div class="gl" style="left:463px;top:214px;width:238px"></div><div style="top:230.83px;line-height:20px;font-size:15.8px;letter-spacing:0.105px;left:-27px;width:600px;text-align:right;">Preço de compra:</div><div style="left:577px;top:224px;width:124px;height:28px;background:#c6d6ee;border:2px solid #1c2f95"></div><div style="left:580px;top:228.33px;line-height:20px;background:#3a7bdc;color:#fff;padding:0 1px 0 0">500,000000</div><div style="left:666px;top:229px;width:2px;height:18px;background:#e8821e"></div><div style="top:259.03px;line-height:20px;font-size:15.8px;letter-spacing:0.136px;left:-27px;width:600px;text-align:right;">Preço de Compra Máster</div><div class="fg" style="left:577px;top:255px;width:124px;height:26px;line-height:24px;"><div style="right:3px;top:0">500,000000</div></div><div style="top:287.03px;line-height:20px;font-size:15.8px;letter-spacing:0.101px;left:-139.5px;width:600px;text-align:right;">Sub-total digitado:</div><div class="fw" style="left:466px;top:285px;width:107px;height:27px;line-height:25px;"></div><div class="bt" style="left:577px;top:286px;width:61px;height:26px;line-height:24px;text-align:left;padding-left:1px;">Calcular</div><div style="top:314.86px;line-height:20px;font-size:14.85px;font-weight:bold;font-family:'DejaVu Sans',sans-serif;-webkit-text-stroke:0.35px #000;left:315px;">Descontos comerciais</div><div class="gl" style="left:506px;top:323px;width:195px"></div><div class="fw" style="left:335px;top:334px;width:79px;height:27px;line-height:25px;"><div style="right:3px;top:0">5,0000</div></div><div class="fg" style="left:431px;top:334px;width:79px;height:27px;line-height:25px;"><div style="right:3px;top:0">0,0000</div></div><div class="fg" style="left:526px;top:334px;width:79px;height:27px;line-height:25px;"><div style="right:3px;top:0">0,0000</div></div><div class="fg" style="left:622px;top:334px;width:79px;height:27px;line-height:25px;"><div style="right:3px;top:0">0,0000</div></div><div style="top:336.77px;line-height:20px;font-size:18px;letter-spacing:0.079px;left:123.5px;width:600px;text-align:center;">+</div><div style="top:336.77px;line-height:20px;font-size:18px;letter-spacing:0.079px;left:219.5px;width:600px;text-align:center;">+</div><div style="top:336.77px;line-height:20px;font-size:18px;letter-spacing:0.079px;left:314.5px;width:600px;text-align:center;">+</div><div class="fg" style="left:335px;top:364px;width:79px;height:27px;line-height:25px;"><div style="right:3px;top:0">0,0000</div></div><div class="fg" style="left:431px;top:364px;width:79px;height:27px;line-height:25px;"><div style="right:3px;top:0">0,0000</div></div><div class="fg" style="left:526px;top:364px;width:79px;height:27px;line-height:25px;"><div style="right:3px;top:0">0,0000</div></div><div class="fg" style="left:622px;top:364px;width:79px;height:27px;line-height:25px;"><div style="right:3px;top:0">0,0000</div></div><div style="top:366.77px;line-height:20px;font-size:18px;letter-spacing:0.079px;left:123.5px;width:600px;text-align:center;">+</div><div style="top:366.77px;line-height:20px;font-size:18px;letter-spacing:0.079px;left:219.5px;width:600px;text-align:center;">+</div><div style="top:366.77px;line-height:20px;font-size:18px;letter-spacing:0.079px;left:314.5px;width:600px;text-align:center;">+</div><div class="fg" style="left:335px;top:394px;width:79px;height:27px;line-height:25px;"><div style="right:3px;top:0">0,0000</div></div><div class="fg" style="left:431px;top:394px;width:79px;height:27px;line-height:25px;"><div style="right:3px;top:0">0,0000</div></div><div class="fg" style="left:526px;top:394px;width:79px;height:27px;line-height:25px;"><div style="right:3px;top:0">5,0000</div></div><div class="fw" style="left:622px;top:394px;width:79px;height:27px;line-height:25px;"><div style="right:3px;top:0">25,000000</div></div><div style="top:396.77px;line-height:20px;font-size:18px;letter-spacing:0.079px;left:123.5px;width:600px;text-align:center;">+</div><div style="top:396.77px;line-height:20px;font-size:18px;letter-spacing:0.079px;left:219.5px;width:600px;text-align:center;">=</div><div style="top:426.16px;line-height:20px;font-size:14.85px;font-weight:bold;font-family:'DejaVu Sans',sans-serif;-webkit-text-stroke:0.35px #000;left:315px;">SUFRAMA / Repasse / Desoneração</div><div class="gl" style="left:616px;top:434px;width:85px"></div><div style="top:449.53px;line-height:20px;font-size:15.8px;letter-spacing:0.441px;left:-97px;width:600px;text-align:right;">Alíq. SUFRAMA:</div><div class="fw" style="left:510px;top:446px;width:78px;height:26px;line-height:24px;"><div style="right:3px;top:0">3,0000</div></div><div class="fg" style="left:595px;top:446px;width:107px;height:26px;line-height:24px;"><div style="right:3px;top:0">14,250000</div></div><div style="top:477.03px;line-height:20px;font-size:15.8px;letter-spacing:0.197px;left:-97px;width:600px;text-align:right;">% ICMS Desonerado:</div><div class="fw" style="left:510px;top:476px;width:78px;height:26px;line-height:24px;"><div style="right:3px;top:0">2,5000</div></div><div class="fw" style="left:595px;top:476px;width:107px;height:26px;line-height:24px;"><div style="right:3px;top:0">11,875000</div></div><div style="top:509.53px;line-height:20px;font-size:15.8px;letter-spacing:0.227px;left:48px;width:600px;text-align:right;">Cód. Desoneração:</div><div class="fw" style="left:658px;top:506px;width:44px;height:26px;line-height:24px;padding-left:1px;letter-spacing:0.079px;">9</div><div style="top:533.86px;line-height:20px;font-size:14.85px;font-weight:bold;font-family:'DejaVu Sans',sans-serif;-webkit-text-stroke:0.35px #000;left:315px;">Preço líquido</div><div class="gl" style="left:430px;top:542px;width:271px"></div><div class="fg" style="left:577px;top:553px;width:124px;height:27px;line-height:25px;"><div style="right:3px;top:0">460,750000</div></div><div style="top:582.86px;line-height:20px;font-size:14.85px;font-weight:bold;font-family:'DejaVu Sans',sans-serif;-webkit-text-stroke:0.35px #000;left:315px;">Custos dentro da nota fiscal</div><div class="gl" style="left:557px;top:592px;width:144px"></div><div style="top:607.03px;line-height:20px;font-size:15.8px;letter-spacing:0.248px;left:-97px;width:600px;text-align:right;">Frete CIF:</div><div class="fw" style="left:510px;top:603px;width:78px;height:27px;line-height:25px;"><div style="right:3px;top:0">2,2000</div></div><div class="fw" style="left:593px;top:603px;width:108px;height:27px;line-height:25px;"><div style="right:3px;top:0">10,136500</div></div><div style="left:381px;top:635px;width:115px;height:25px;background:#fff"></div><div style="left:385px;top:640px;width:17px;height:16px;border:2px solid #333;background:#fff"></div><div style="top:638.33px;line-height:20px;font-size:15.8px;letter-spacing:0.37px;left:407px;">Vlr. IPI Fixo</div><div style="top:637.03px;line-height:20px;font-size:15.8px;letter-spacing:0.248px;left:-12px;width:600px;text-align:right;">Pauta IPI:</div><div class="fw" style="left:593px;top:633px;width:108px;height:27px;line-height:25px;"><div style="right:3px;top:0">0,000000</div></div><div style="top:667.03px;line-height:20px;font-size:15.8px;letter-spacing:0.397px;left:-197.5px;width:600px;text-align:right;">IPI:</div><div class="fw" style="left:410px;top:663px;width:94px;height:27px;line-height:25px;"><div style="right:3px;top:0">0,000000</div></div><div class="fw" style="left:510px;top:663px;width:78px;height:27px;line-height:25px;"><div style="right:3px;top:0">10,0000</div></div><div class="fw" style="left:593px;top:663px;width:108px;height:27px;line-height:25px;"><div style="right:3px;top:0">49,588650</div></div><div style="top:697.03px;line-height:20px;font-size:15.8px;letter-spacing:0.139px;left:-97px;width:600px;text-align:right;">Seguro:</div><div class="fw" style="left:510px;top:693px;width:78px;height:27px;line-height:25px;"><div style="right:3px;top:0">3,6000</div></div><div class="fw" style="left:593px;top:693px;width:108px;height:27px;line-height:25px;"><div style="right:3px;top:0">17,100000</div></div><div style="top:727.03px;line-height:20px;font-size:15.8px;letter-spacing:0.105px;left:-97px;width:600px;text-align:right;">Outras despesas:</div><div class="fw" style="left:510px;top:723px;width:78px;height:27px;line-height:25px;"><div style="right:3px;top:0">4,3000</div></div><div class="fw" style="left:593px;top:723px;width:108px;height:27px;line-height:25px;"><div style="right:3px;top:0">20,425000</div></div><div style="top:755.83px;line-height:20px;font-size:15.8px;letter-spacing:0.382px;left:-193px;width:600px;text-align:right;">FCP ST:</div><div class="fg" style="left:410px;top:753px;width:94px;height:27px;line-height:25px;"><div style="right:3px;top:0">753,300203</div></div><div class="fw" style="left:510px;top:753px;width:78px;height:27px;line-height:25px;"><div style="right:3px;top:0">1,5000</div></div><div class="fw" style="left:593px;top:753px;width:108px;height:27px;line-height:25px;"><div style="right:3px;top:0">11,299503</div></div><div style="top:785.83px;line-height:20px;font-size:15.8px;letter-spacing:0.362px;text-decoration:underline;text-underline-offset:2px;left:-193px;width:600px;text-align:right;">ST NF:</div><div class="fg" style="left:410px;top:783px;width:94px;height:27px;line-height:25px;"><div style="right:3px;top:0">753,300203</div></div><div class="fg" style="left:510px;top:783px;width:78px;height:27px;line-height:25px;"><div style="right:3px;top:0">7,7601</div></div><div class="fg" style="left:593px;top:783px;width:108px;height:27px;line-height:25px;"><div style="right:3px;top:0">43,301464</div></div><div style="top:809.36px;line-height:20px;font-size:14.85px;font-weight:bold;font-family:'DejaVu Sans',sans-serif;-webkit-text-stroke:0.35px #000;left:315px;">Preço Mercadoria</div><div class="gl" style="left:470px;top:818px;width:231px"></div><div class="fg" style="left:577px;top:822px;width:124px;height:26px;line-height:24px;"><div style="right:3px;top:0">600,726117</div></div><div style="top:852.86px;line-height:20px;font-size:14.85px;font-weight:bold;font-family:'DejaVu Sans',sans-serif;-webkit-text-stroke:0.35px #000;left:315px;">Cálculo da subst. tributária (ST)</div><div class="fw" style="left:590px;top:855px;width:111px;height:26px;line-height:24px;padding-top:1.3px;padding-left:1px;letter-spacing:0.117px;">Nota fiscal</div><div class="ddb" style="left:676px;top:858px;width:22px;height:21px;"><div class="tri"></div></div><svg style="position:absolute;left:312px;top:878px" width="400" height="34"><defs><linearGradient id="tg2" x1="0" y1="0" x2="0" y2="1"><stop offset="0" stop-color="#fdfdfd"/><stop offset="1" stop-color="#dcdcdc"/></linearGradient></defs><path d="M104 31.5 L119 6 L226 6 Q229 6 229 9 L229 31.5 Z" fill="url(#tg2)" stroke="#a8a8a8"/><path d="M229 31.5 L243 6 L303 6 Q306 6 306 9 L306 31.5 Z" fill="url(#tg2)" stroke="#a8a8a8"/><path d="M2 32 L28 6 L104 6 L104 32" fill="#f0f0f0" stroke="#a8a8a8"/><path d="M28 4 L104 4 L104 8.5 L25 8.5 Z" fill="#0b6fd6"/><path d="M306 31.5 L396 31.5" stroke="#a8a8a8"/></svg><div style="top:889.33px;line-height:20px;font-size:15.8px;letter-spacing:0.126px;left:343.5px;">Alíquotas</div><div style="top:889.33px;line-height:20px;font-size:15.8px;letter-spacing:0.114px;left:431px;">Medicamentos</div><div style="top:889.33px;line-height:20px;font-size:15.8px;letter-spacing:0.261px;left:556px;">Feef PB</div><div style="top:916.83px;line-height:20px;font-size:15.8px;letter-spacing:0.308px;left:-165px;width:600px;text-align:right;">Vlr. Pauta:</div><div class="fw" style="left:437px;top:913px;width:79px;height:27px;line-height:25px;"><div style="right:3px;top:0">0,000000</div></div><div style="top:917.53px;line-height:20px;font-size:15.8px;letter-spacing:0.334px;left:21.299999999999955px;width:600px;text-align:right;">%IVA:</div><div class="fw" style="left:623px;top:913px;width:79px;height:27px;line-height:25px;"><div style="right:3px;top:0">35,0000</div></div><div style="top:947.13px;line-height:20px;font-size:15.8px;letter-spacing:0.246px;left:-165px;width:600px;text-align:right;">Vlr. Adicional:</div><div class="fw" style="left:437px;top:944px;width:79px;height:26px;line-height:24px;"><div style="right:3px;top:0">0,0000</div></div><div style="top:947.53px;line-height:20px;font-size:15.8px;letter-spacing:0.37px;left:21.299999999999955px;width:600px;text-align:right;">Red.Base IVA:</div><div class="fw" style="left:623px;top:944px;width:79px;height:26px;line-height:24px;"><div style="right:3px;top:0">0,0000</div></div><div style="top:976.73px;line-height:20px;font-size:15.8px;letter-spacing:0.602px;left:-165px;width:600px;text-align:right;">Red.Al.Ext.:</div><div class="fw" style="left:437px;top:973px;width:79px;height:27px;line-height:25px;"><div style="right:3px;top:0">0,0000</div></div><div style="top:977.53px;line-height:20px;font-size:15.8px;letter-spacing:0.272px;left:21.299999999999955px;width:600px;text-align:right;">Alíq.Interna:</div><div class="fw" style="left:623px;top:973px;width:79px;height:27px;line-height:25px;"><div style="right:3px;top:0">17,0000</div></div><div class="fw" style="left:437px;top:1003px;width:79px;height:27px;line-height:25px;"></div><div class="fg" style="left:623px;top:1003px;width:79px;height:27px;line-height:25px;"></div><svg style="position:absolute;left:705px;top:203px" width="400" height="34"><defs><linearGradient id="tg3" x1="0" y1="0" x2="0" y2="1"><stop offset="0" stop-color="#fdfdfd"/><stop offset="1" stop-color="#dcdcdc"/></linearGradient></defs><path d="M5 29.5 L32 3.5 L110 3.5 Q113 3.5 113 6 L113 18 L104 29.5 Z" fill="url(#tg3)" stroke="#a8a8a8"/><path d="M102 30 L125 5 L236 5 L236 30" fill="#f0f0f0" stroke="#a8a8a8"/><path d="M125 3 L236 3 L236 7 L121 7 Z" fill="#0b6fd6"/><path d="M236 29.5 L398 29.5" stroke="#a8a8a8"/></svg><div style="top:212.53px;line-height:20px;font-size:15.8px;letter-spacing:0.308px;left:737.5px;">Inf.Fiscais</div><div style="top:212.53px;line-height:20px;font-size:15.8px;letter-spacing:0.259px;left:833.5px;">Ref.Tributária</div><div style="top:239.53px;line-height:20px;font-size:15.8px;letter-spacing:0.185px;left:522.5px;width:600px;text-align:center;">Base</div><div style="top:239.53px;line-height:20px;font-size:15.8px;letter-spacing:0.132px;left:623px;width:600px;text-align:center;">Alíquota</div><div style="top:239.53px;line-height:20px;font-size:15.8px;letter-spacing:0.164px;left:719.5px;width:600px;text-align:center;">Valor</div><div style="top:267.03px;line-height:20px;font-size:15.8px;letter-spacing:0.397px;text-decoration:underline;text-underline-offset:2px;left:176.5px;width:600px;text-align:right;">CBS:</div><div class="fg" style="left:779px;top:264px;width:96px;height:27px;line-height:25px;"><div style="right:3px;top:0">595,501117</div></div><div class="fg" style="left:880px;top:264px;width:86px;height:27px;line-height:25px;"><div style="right:3px;top:0">12,0000</div></div><div class="fg" style="left:972px;top:264px;width:107px;height:27px;line-height:25px;"><div style="right:3px;top:0">71,460134</div></div><div style="top:299.03px;line-height:20px;font-size:15.8px;letter-spacing:0.397px;text-decoration:underline;text-underline-offset:2px;left:176.5px;width:600px;text-align:right;">IBS:</div><div class="fg" style="left:779px;top:296px;width:96px;height:28px;line-height:26px;"><div style="right:3px;top:0">595,501117</div></div><div class="fg" style="left:880px;top:296px;width:86px;height:28px;line-height:26px;"><div style="right:3px;top:0">25,0000</div></div><div class="fg" style="left:972px;top:296px;width:107px;height:28px;line-height:26px;"><div style="right:3px;top:0">148,875279</div></div><div style="top:332.03px;line-height:20px;font-size:15.8px;letter-spacing:0.362px;text-decoration:underline;text-underline-offset:2px;left:176.5px;width:600px;text-align:right;">IS:</div><div class="fg" style="left:779px;top:329px;width:96px;height:27px;line-height:25px;"><div style="right:3px;top:0">595,501117</div></div><div class="fg" style="left:880px;top:329px;width:86px;height:27px;line-height:25px;"><div style="right:3px;top:0">16,0000</div></div><div class="fg" style="left:972px;top:329px;width:107px;height:27px;line-height:25px;"><div style="right:3px;top:0">95,280179</div></div><div style="top:544.86px;line-height:20px;font-size:14.85px;font-weight:bold;font-family:'DejaVu Sans',sans-serif;-webkit-text-stroke:0.35px #000;left:708px;">Custo fora da nota fiscal</div><div class="gl" style="left:921px;top:552px;width:173px"></div><div style="top:570.83px;line-height:20px;font-size:15.8px;letter-spacing:0.248px;left:193.70000000000005px;width:600px;text-align:right;">Frete FOB:</div><div class="fg" style="left:797px;top:567px;width:96px;height:27px;line-height:25px;"><div style="right:3px;top:0">0,000000</div></div><div class="fg" style="left:898px;top:567px;width:86px;height:27px;line-height:25px;"><div style="right:3px;top:0">0,0000</div></div><div class="fg" style="left:987px;top:567px;width:107px;height:27px;line-height:25px;"><div style="right:3px;top:0">0,000000</div></div><div style="top:601.83px;line-height:20px;font-size:15.8px;letter-spacing:0.378px;left:293.70000000000005px;width:600px;text-align:right;">Desp. Financ.:</div><div class="fg" style="left:898px;top:598px;width:86px;height:27px;line-height:25px;"><div style="right:3px;top:0">0,0000</div></div><div class="fg" style="left:987px;top:598px;width:107px;height:27px;line-height:25px;"><div style="right:3px;top:0">0,000000</div></div><div style="top:631.83px;line-height:20px;font-size:15.8px;letter-spacing:0.132px;left:293.70000000000005px;width:600px;text-align:right;">Outras Despesas:</div><div class="fg" style="left:898px;top:628px;width:86px;height:27px;line-height:25px;"><div style="right:3px;top:0">0,0000</div></div><div class="fg" style="left:987px;top:628px;width:107px;height:27px;line-height:25px;"><div style="right:3px;top:0">0,000000</div></div><div style="top:662.83px;line-height:20px;font-size:15.8px;letter-spacing:0.267px;left:193.70000000000005px;width:600px;text-align:right;">FCP Guia:</div><div class="fg" style="left:797px;top:659px;width:96px;height:26px;line-height:24px;"><div style="right:3px;top:0">0,000000</div></div><div class="fw" style="left:898px;top:659px;width:86px;height:26px;line-height:24px;"><div style="right:3px;top:0">0,0000</div></div><div class="fw" style="left:987px;top:659px;width:107px;height:26px;line-height:24px;"><div style="right:3px;top:0">0,000000</div></div><div style="top:692.83px;line-height:20px;font-size:15.8px;letter-spacing:0.238px;text-decoration:underline;text-underline-offset:2px;left:193.70000000000005px;width:600px;text-align:right;">ST Guia:</div><div class="fg" style="left:797px;top:689px;width:96px;height:27px;line-height:25px;"><div style="right:3px;top:0">0,000000</div></div><div class="fg" style="left:898px;top:689px;width:86px;height:27px;line-height:25px;"><div style="right:3px;top:0">0,0000</div></div><div class="fg" style="left:987px;top:689px;width:107px;height:27px;line-height:25px;"><div style="right:3px;top:0">0,000000</div></div><div style="top:722.83px;line-height:20px;font-size:15.8px;letter-spacing:0.497px;left:193.70000000000005px;width:600px;text-align:right;">Dif.Alíq.:</div><div class="fg" style="left:797px;top:719px;width:96px;height:26px;line-height:24px;"><div style="right:3px;top:0">0,000000</div></div><div class="fg" style="left:898px;top:719px;width:86px;height:26px;line-height:24px;"><div style="right:3px;top:0">0,0000</div></div><div class="fg" style="left:987px;top:719px;width:107px;height:26px;line-height:24px;"><div style="right:3px;top:0">0,000000</div></div><div style="top:746.16px;line-height:20px;font-size:14.85px;font-weight:bold;font-family:'DejaVu Sans',sans-serif;-webkit-text-stroke:0.35px #000;left:708px;">Cálculo de ST (ICMS Antecipado)</div><div class="gl" style="left:989px;top:755px;width:105px"></div><div style="top:769.03px;line-height:20px;font-size:15.8px;letter-spacing:0.358px;left:211.29999999999995px;width:600px;text-align:right;">Vl.Pauta:</div><div class="fg" style="left:814px;top:765px;width:79px;height:26px;line-height:24px;"><div style="right:3px;top:0">0,000000</div></div><div style="top:769.03px;line-height:20px;font-size:15.8px;letter-spacing:0.334px;left:411.29999999999995px;width:600px;text-align:right;">%IVA:</div><div class="fg" style="left:1015px;top:765px;width:79px;height:26px;line-height:24px;"><div style="right:3px;top:0">0,0000</div></div><div style="top:799.03px;line-height:20px;font-size:15.8px;letter-spacing:0.272px;left:211.29999999999995px;width:600px;text-align:right;">Vl.Adicional:</div><div class="fg" style="left:814px;top:795px;width:79px;height:26px;line-height:24px;"><div style="right:3px;top:0">0,0000</div></div><div style="top:799.03px;line-height:20px;font-size:15.8px;letter-spacing:0.37px;left:411.29999999999995px;width:600px;text-align:right;">Red.Base IVA:</div><div class="fg" style="left:1015px;top:795px;width:79px;height:26px;line-height:24px;"><div style="right:3px;top:0">0,0000</div></div><div style="top:829.03px;line-height:20px;font-size:15.8px;letter-spacing:0.602px;left:211.29999999999995px;width:600px;text-align:right;">Red.Al.Ext.:</div><div class="fg" style="left:814px;top:825px;width:79px;height:26px;line-height:24px;"><div style="right:3px;top:0">0,0000</div></div><div style="top:829.03px;line-height:20px;font-size:15.8px;letter-spacing:0.321px;left:411.29999999999995px;width:600px;text-align:right;">ICMSFrete FOB:</div><div class="fg" style="left:1015px;top:825px;width:79px;height:26px;line-height:24px;"><div style="right:3px;top:0">0,0000</div></div><div style="top:859.03px;line-height:20px;font-size:15.8px;letter-spacing:0.272px;left:211.29999999999995px;width:600px;text-align:right;">Alíq.Interna:</div><div class="fg" style="left:814px;top:855px;width:79px;height:26px;line-height:24px;"><div style="right:3px;top:0">0,0000</div></div><div style="top:859.03px;line-height:20px;font-size:15.8px;letter-spacing:0.386px;left:411.29999999999995px;width:600px;text-align:right;">Alíq.Ext. Guia:</div><div class="fg" style="left:1015px;top:855px;width:79px;height:26px;line-height:24px;"><div style="right:3px;top:0">0,0000</div></div><div style="top:888.83px;line-height:20px;font-size:15.8px;letter-spacing:0.291px;left:193.70000000000005px;width:600px;text-align:right;">ICMSAntec:</div><div class="fg" style="left:797px;top:885px;width:96px;height:26px;line-height:24px;"><div style="right:3px;top:0">0,000000</div></div><div class="fg" style="left:898px;top:885px;width:86px;height:26px;line-height:24px;"><div style="right:3px;top:0">0,0000</div></div><div class="fg" style="left:987px;top:885px;width:107px;height:26px;line-height:24px;"><div style="right:3px;top:0">0,000000</div></div><div style="top:913.16px;line-height:20px;font-size:14.85px;font-weight:bold;font-family:'DejaVu Sans',sans-serif;-webkit-text-stroke:0.35px #000;left:708px;">Acréscimo Custo</div><div class="gl" style="left:856px;top:922px;width:238px"></div><div style="top:936.53px;line-height:20px;font-size:15.8px;letter-spacing:0.311px;left:193.70000000000005px;width:600px;text-align:right;">% Acrés.:</div><div class="fg" style="left:797px;top:932px;width:96px;height:26px;line-height:24px;"><div style="right:3px;top:0">0,0000</div></div><div style="top:936.53px;line-height:20px;font-size:15.8px;letter-spacing:0.428px;left:383.70000000000005px;width:600px;text-align:right;">Vlr. Acrés.:</div><div class="fg" style="left:987px;top:932px;width:107px;height:26px;line-height:24px;"><div style="right:3px;top:0">0,000000</div></div><div style="top:959.36px;line-height:20px;font-size:14.85px;font-weight:bold;font-family:'DejaVu Sans',sans-serif;-webkit-text-stroke:0.35px #000;left:708px;">Bonificação</div><div class="gl" style="left:812px;top:969px;width:108px"></div><div style="top:982.83px;line-height:20px;font-size:15.8px;letter-spacing:0.126px;left:292.5px;width:600px;text-align:right;">Dinheiro:</div><div class="fg" style="left:897px;top:979px;width:86px;height:27px;line-height:25px;"><div style="right:3px;top:0">0,0000</div></div><div class="fg" style="left:987px;top:979px;width:107px;height:27px;line-height:25px;"><div style="right:3px;top:0">0,000000</div></div><div style="top:204.86px;line-height:20px;font-size:14.85px;font-weight:bold;font-family:'DejaVu Sans',sans-serif;-webkit-text-stroke:0.35px #000;left:1103.5px;">Descontos financeiro</div><div class="gl" style="left:1292px;top:209px;width:197px"></div><div style="top:232.03px;line-height:20px;font-size:15.8px;letter-spacing:0.114px;left:688px;width:600px;text-align:right;">Conta pagar:</div><div class="fg" style="left:1291px;top:228px;width:86px;height:26px;line-height:24px;"><div style="right:3px;top:0">0,0000</div></div><div class="fg" style="left:1381px;top:228px;width:107px;height:26px;line-height:24px;"><div style="right:3px;top:0">0,000000</div></div><div style="top:262.03px;line-height:20px;font-size:15.8px;letter-spacing:0.107px;left:688px;width:600px;text-align:right;">Produtor rural:</div><div class="fg" style="left:1291px;top:258px;width:86px;height:26px;line-height:24px;"><div style="right:3px;top:0">0,0000</div></div><div class="fg" style="left:1381px;top:258px;width:107px;height:26px;line-height:24px;"><div style="right:3px;top:0">0,000000</div></div><div style="top:286.16px;line-height:20px;font-size:14.85px;font-weight:bold;font-family:'DejaVu Sans',sans-serif;-webkit-text-stroke:0.35px #000;left:1103.5px;">Embalagem</div><div class="gl" style="left:1210px;top:294px;width:281px"></div><div style="top:302.03px;line-height:20px;font-size:15.8px;letter-spacing:0.382px;left:1103.5px;">Qt.Unit.CX(Fator):</div><div class="fg" style="left:1243px;top:300px;width:248px;height:26px;line-height:24px;"><div style="right:3px;top:0">1</div></div><div style="top:334.53px;line-height:20px;font-size:15.8px;letter-spacing:0.33px;left:787.5px;width:600px;text-align:right;">Peso Líq.:</div><div class="fg" style="left:1390px;top:330px;width:101px;height:26px;line-height:24px;"><div style="right:3px;top:0">3,000000</div></div><div style="top:364.03px;line-height:20px;font-size:15.8px;letter-spacing:0.117px;left:787.5px;width:600px;text-align:right;">Peso bruto:</div><div class="fg" style="left:1390px;top:360px;width:101px;height:26px;line-height:24px;"><div style="right:3px;top:0">4,000000</div></div><div style="top:392.03px;line-height:20px;font-size:15.8px;letter-spacing:0.185px;left:787.5px;width:600px;text-align:right;">Nº Lote:</div><div class="fg" style="left:1390px;top:390px;width:101px;height:26px;line-height:24px;"></div><div style="top:419.86px;line-height:20px;font-size:14.85px;font-weight:bold;font-family:'DejaVu Sans',sans-serif;-webkit-text-stroke:0.35px #000;left:1103.5px;">Quantidades</div><div class="gl" style="left:1219px;top:428px;width:272px"></div><div style="top:437.53px;line-height:20px;font-size:15.8px;letter-spacing:0.206px;left:787.5px;width:600px;text-align:right;">Qtde: (UN)</div><div class="fw" style="left:1390px;top:433px;width:101px;height:27px;line-height:25px;"><div style="right:3px;top:0">1,000000</div></div><div style="top:497.03px;line-height:20px;font-size:15.8px;letter-spacing:0.335px;left:784.5px;width:600px;text-align:right;">Qtde. Unid. Venda:</div><div class="fg" style="left:1390px;top:493px;width:101px;height:27px;line-height:25px;"><div style="right:3px;top:0">1,000000</div></div><div style="top:527.03px;line-height:20px;font-size:15.8px;letter-spacing:0.121px;left:784.5px;width:600px;text-align:right;">Bloqueada:</div><div class="fw" style="left:1390px;top:523px;width:101px;height:27px;line-height:25px;"><div style="right:3px;top:0">0,000000</div></div><div style="top:557.03px;line-height:20px;font-size:15.8px;letter-spacing:0.126px;left:784.5px;width:600px;text-align:right;">Avariada:</div><div class="fw" style="left:1390px;top:553px;width:101px;height:27px;line-height:25px;"><div style="right:3px;top:0">0,000000</div></div><div style="top:587.03px;line-height:20px;font-size:15.8px;letter-spacing:0.246px;left:784.5px;width:600px;text-align:right;">Preço merc. x Qtd.pedida:</div><div class="fg" style="left:1390px;top:583px;width:101px;height:27px;line-height:25px;"><div style="right:3px;top:0">600,726117</div></div><div style="top:614.86px;line-height:20px;font-size:14.85px;font-weight:bold;font-family:'DejaVu Sans',sans-serif;-webkit-text-stroke:0.35px #000;left:1103.5px;">Quantidades disponível</div><div class="gl" style="left:1306px;top:623px;width:185px"></div><div style="top:638.53px;line-height:20px;font-size:15.8px;letter-spacing:0.121px;left:595.7px;width:600px;text-align:right;">Gerencial:</div><div class="fg" style="left:1200px;top:636px;width:102px;height:26px;line-height:24px;"><div style="right:3px;top:0">..845,000000</div></div><div style="top:638.53px;line-height:20px;font-size:15.8px;letter-spacing:0.126px;left:784.5px;width:600px;text-align:right;">Contábil:</div><div class="fg" style="left:1390px;top:636px;width:101px;height:26px;line-height:24px;"><div style="right:3px;top:0">..845,000000</div></div><div style="top:668.53px;line-height:20px;font-size:15.8px;letter-spacing:0.121px;left:595.7px;width:600px;text-align:right;">Bloqueada:</div><div class="fg" style="left:1200px;top:666px;width:102px;height:26px;line-height:24px;"><div style="right:3px;top:0">26,000000</div></div><div style="top:668.53px;line-height:20px;font-size:15.8px;letter-spacing:0.126px;left:784.5px;width:600px;text-align:right;">Avariada:</div><div class="fg" style="left:1390px;top:666px;width:101px;height:26px;line-height:24px;"><div style="right:3px;top:0">10,000000</div></div><div style="top:698.53px;line-height:20px;font-size:15.8px;letter-spacing:0.121px;left:595.7px;width:600px;text-align:right;">Reservada:</div><div class="fg" style="left:1200px;top:696px;width:102px;height:26px;line-height:24px;"><div style="right:3px;top:0">7,000000</div></div><div style="top:698.53px;line-height:20px;font-size:15.8px;letter-spacing:0.149px;left:784.5px;width:600px;text-align:right;">Saldo:</div><div class="fg" style="left:1390px;top:696px;width:101px;height:26px;line-height:24px;"><div style="right:3px;top:0">..828,000000</div></div><div style="top:734.36px;line-height:20px;font-size:14.85px;font-weight:bold;font-family:'DejaVu Sans',sans-serif;-webkit-text-stroke:0.35px #000;left:1103.5px;">Dados fiscais</div><div class="gl" style="left:1220px;top:744px;width:271px"></div><div style="top:758.33px;line-height:20px;font-size:15.8px;letter-spacing:0.418px;left:597px;width:600px;text-align:right;">CFOP:</div><div class="fw" style="left:1202px;top:755px;width:71px;height:26px;line-height:24px;padding-left:1px;letter-spacing:0.079px;">5202</div><div class="bt" style="left:1278px;top:755px;width:32px;height:26px;line-height:24px;text-align:left;padding-left:2.5px;letter-spacing:1.3px;">...</div><div style="top:758.33px;line-height:20px;font-size:15.8px;letter-spacing:0.497px;left:780px;width:600px;text-align:right;">Sit.Trib.:</div><div class="fw" style="left:1384px;top:755px;width:69px;height:26px;line-height:24px;padding-left:1px;letter-spacing:0.079px;">10</div><div class="bt" style="left:1458px;top:755px;width:32px;height:26px;line-height:24px;text-align:left;padding-left:2.5px;letter-spacing:1.3px;">...</div><div style="top:788.33px;line-height:20px;font-size:15.8px;letter-spacing:0.459px;left:597px;width:600px;text-align:right;">Orig.Merc.:</div><div class="fw" style="left:1202px;top:785px;width:71px;height:26px;line-height:24px;padding-left:1px;letter-spacing:0.079px;">0</div><div class="bt" style="left:1278px;top:785px;width:32px;height:26px;line-height:24px;text-align:left;padding-left:2.5px;letter-spacing:1.3px;">...</div><div style="top:818.66px;line-height:20px;font-size:14.85px;font-weight:bold;font-family:'DejaVu Sans',sans-serif;-webkit-text-stroke:0.35px #000;left:1103.5px;">BCR</div><div class="gl" style="left:1141px;top:827px;width:350px"></div><div class="bt dis" style="left:1386px;top:834px;width:106px;height:25px;line-height:23px;">Calcular</div><div style="top:865.83px;line-height:20px;font-size:15.8px;letter-spacing:0.418px;left:594px;width:600px;text-align:right;">ICMS:</div><div class="fg" style="left:1196px;top:862px;width:97px;height:27px;line-height:25px;"><div style="right:3px;top:0">0,000000</div></div><div class="fg" style="left:1396px;top:862px;width:97px;height:27px;line-height:25px;"><div style="right:3px;top:0">0,000000</div></div><div style="top:896.53px;line-height:20px;font-size:15.8px;letter-spacing:0.382px;left:594px;width:600px;text-align:right;">ST BCR:</div><div class="fg" style="left:1196px;top:892px;width:97px;height:27px;line-height:25px;"><div style="right:3px;top:0">0,000000</div></div><div class="fg" style="left:1396px;top:892px;width:97px;height:27px;line-height:25px;"><div style="right:3px;top:0">0,000000</div></div><div style="top:926.53px;line-height:20px;font-size:15.8px;letter-spacing:0.388px;left:594px;width:600px;text-align:right;">FCP ST BCR:</div><div class="fg" style="left:1196px;top:922px;width:97px;height:27px;line-height:25px;"><div style="right:3px;top:0">753,300203</div></div><div class="fg" style="left:1295px;top:922px;width:97px;height:27px;line-height:25px;"><div style="right:3px;top:0">2,0000</div></div><div class="fg" style="left:1396px;top:922px;width:97px;height:27px;line-height:25px;"><div style="right:3px;top:0">11,299503</div></div><div style="top:951.86px;line-height:20px;font-size:14.85px;font-weight:bold;font-family:'DejaVu Sans',sans-serif;-webkit-text-stroke:0.35px #000;left:1103.5px;">Buscar dados da nota fiscal de entrada</div><div class="gl" style="left:1436px;top:960px;width:55px"></div><div style="top:979.83px;line-height:20px;font-size:15.8px;letter-spacing:0.119px;left:741.3px;width:600px;text-align:right;">Transação de Entrada:</div><div class="fg" style="left:1346px;top:976px;width:108px;height:27px;line-height:25px;padding-left:1px;letter-spacing:0.079px;">0</div><div class="bt dis" style="left:1459px;top:976px;width:28px;height:26px;line-height:24px;text-align:left;padding-left:2.5px;letter-spacing:1.3px;">...</div></body></html>
